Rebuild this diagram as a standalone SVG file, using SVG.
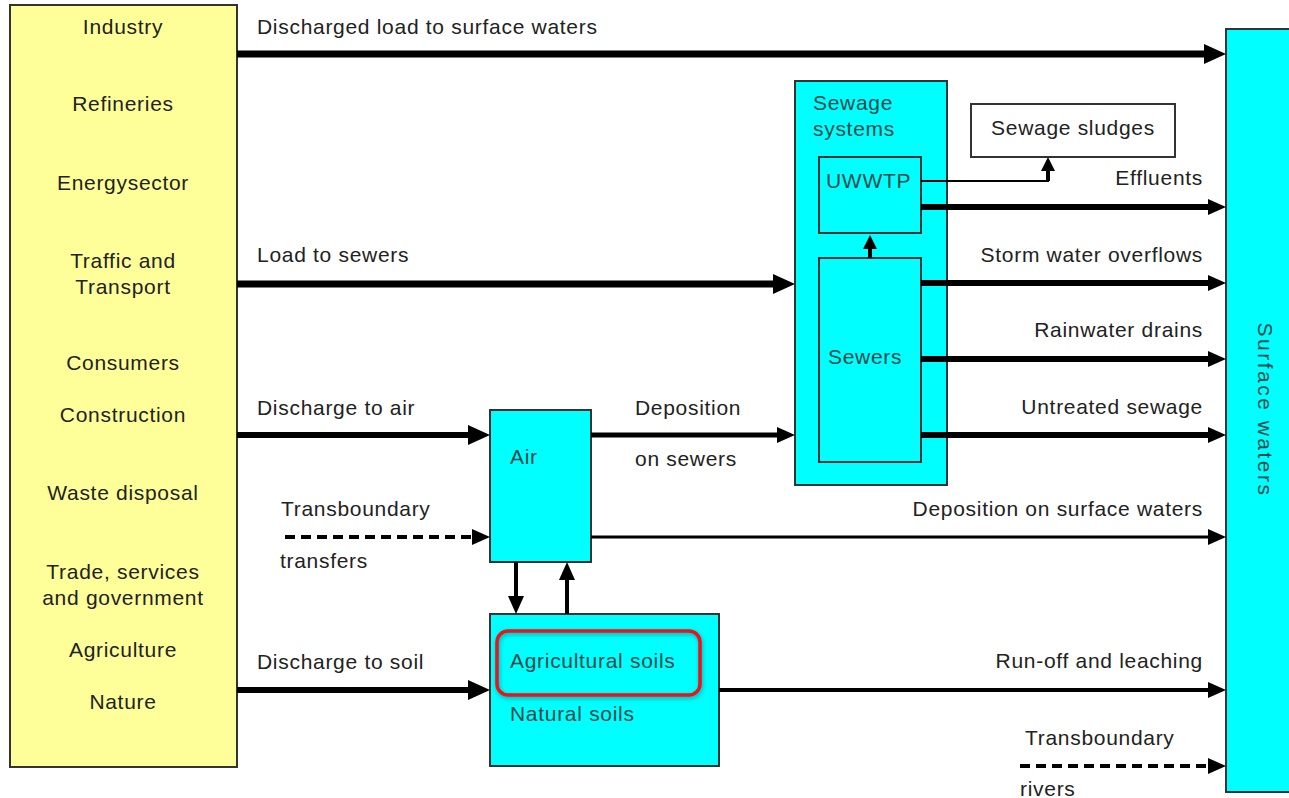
<svg xmlns="http://www.w3.org/2000/svg" width="1289" height="798" viewBox="0 0 1289 798">
<defs>
<marker id="ah" markerUnits="userSpaceOnUse" markerWidth="22" markerHeight="20" viewBox="0 0 22 20" refX="11" refY="10" orient="auto"><path d="M0,0 L22,10 L0,20 z" fill="#000"/></marker>
<marker id="ahm" markerUnits="userSpaceOnUse" markerWidth="18" markerHeight="16" viewBox="0 0 18 16" refX="9" refY="8" orient="auto"><path d="M0,0 L18,8 L0,16 z" fill="#000"/></marker>
<marker id="ahs" markerUnits="userSpaceOnUse" markerWidth="14" markerHeight="14" viewBox="0 0 14 14" refX="7" refY="7" orient="auto"><path d="M0,0 L14,7 L0,14 z" fill="#000"/></marker>
<filter id="sh" x="-10%" y="-20%" width="120%" height="150%"><feDropShadow dx="1" dy="2" stdDeviation="2" flood-color="#000" flood-opacity="0.3"/></filter>
</defs>
<style>
text{font-family:"Liberation Sans",Arial,sans-serif;font-size:21px;letter-spacing:0.7px;fill:#222}
.in{fill:#1f4a4a}
.box{stroke:#333;stroke-width:2}
.cy{fill:#00FFFF}
.c{text-anchor:middle}
.r{text-anchor:end}
.ln{stroke:#000;fill:none}
</style>
<rect width="1289" height="798" fill="#fff"/>

<g id="sources">
<rect class="box" x="10" y="5" width="227" height="762" fill="#FFFF99"/>
<text class="c" x="123" y="34">Industry</text>
<text class="c" x="123" y="111">Refineries</text>
<text class="c" x="123" y="190">Energysector</text>
<text class="c" x="123" y="268">Traffic and</text>
<text class="c" x="123" y="294">Transport</text>
<text class="c" x="123" y="370">Consumers</text>
<text class="c" x="123" y="422">Construction</text>
<text class="c" x="123" y="500">Waste disposal</text>
<text class="c" x="123" y="579">Trade, services</text>
<text class="c" x="123" y="605">and government</text>
<text class="c" x="123" y="657">Agriculture</text>
<text class="c" x="123" y="709">Nature</text>
</g>

<g id="surface-waters">
<rect class="box cy" x="1226" y="29" width="70" height="763"/>
<text class="c in" transform="translate(1258,410) rotate(90)" style="letter-spacing:2.5px">Surface waters</text>
</g>

<g id="sewage-systems">
<rect class="box cy" x="795" y="81" width="152" height="404"/>
<text class="in" x="813" y="110">Sewage</text>
<text class="in" x="813" y="136">systems</text>
</g>
<g id="uwwtp">
<rect class="box cy" x="819" y="157" width="102" height="76"/>
<text class="in" x="826" y="188">UWWTP</text>
</g>
<g id="sewers">
<rect class="box cy" x="819" y="258" width="102" height="204"/>
<text class="in" x="828" y="364">Sewers</text>
</g>
<g id="sewage-sludges">
<rect class="box" x="971" y="104" width="204" height="53" fill="#fff" stroke="#555"/>
<text class="c" x="1073" y="135">Sewage sludges</text>
</g>
<g id="air">
<rect class="box cy" x="490" y="410" width="101" height="152"/>
<text class="in" x="510" y="464">Air</text>
</g>
<g id="soils">
<rect class="box cy" x="490" y="614" width="229" height="152"/>
<rect x="497" y="631" width="203" height="64" rx="11" fill="none" stroke="#e8141a" stroke-width="3.5" filter="url(#sh)"/>
<text class="in" x="510" y="668">Agricultural soils</text>
<text class="in" x="510" y="721">Natural soils</text>
</g>

<g id="connectors">
<line class="ln" x1="237" y1="54" x2="1215" y2="54" stroke-width="7" marker-end="url(#ah)"/>
<line class="ln" x1="237" y1="284" x2="784" y2="284" stroke-width="7" marker-end="url(#ah)"/>
<line class="ln" x1="237" y1="435" x2="479" y2="435" stroke-width="6" marker-end="url(#ah)"/>
<line class="ln" x1="285" y1="537" x2="481" y2="537" stroke-width="4" stroke-dasharray="10 6" marker-end="url(#ahm)"/>
<line class="ln" x1="237" y1="690" x2="479" y2="690" stroke-width="6" marker-end="url(#ah)"/>
<line class="ln" x1="591" y1="435" x2="786" y2="435" stroke-width="5" marker-end="url(#ahm)"/>
<line class="ln" x1="591" y1="537" x2="1217" y2="537" stroke-width="3" marker-end="url(#ahm)"/>
<line class="ln" x1="516" y1="562" x2="516" y2="605" stroke-width="4" marker-end="url(#ahm)"/>
<line class="ln" x1="567" y1="614" x2="567" y2="571" stroke-width="4" marker-end="url(#ahm)"/>
<line class="ln" x1="719" y1="690" x2="1217" y2="690" stroke-width="4" marker-end="url(#ahm)"/>
<line class="ln" x1="1020" y1="766" x2="1217" y2="766" stroke-width="4" stroke-dasharray="10 6" marker-end="url(#ahm)"/>
<line class="ln" x1="870" y1="258" x2="870" y2="242" stroke-width="4" marker-end="url(#ahs)"/>
<polyline class="ln" points="921,181 1048,181 1048,165" stroke-width="2"/>
<line class="ln" x1="1048" y1="181" x2="1048" y2="164" stroke-width="4" marker-end="url(#ahs)"/>
<line class="ln" x1="921" y1="207" x2="1217" y2="207" stroke-width="6" marker-end="url(#ahm)"/>
<line class="ln" x1="921" y1="283" x2="1217" y2="283" stroke-width="6" marker-end="url(#ahm)"/>
<line class="ln" x1="921" y1="359" x2="1217" y2="359" stroke-width="6" marker-end="url(#ahm)"/>
<line class="ln" x1="921" y1="435" x2="1217" y2="435" stroke-width="6" marker-end="url(#ahm)"/>
</g>

<g id="labels">
<text x="257" y="34">Discharged load to surface waters</text>
<text x="257" y="262">Load to sewers</text>
<text x="257" y="415">Discharge to air</text>
<text x="281" y="516">Transboundary</text>
<text x="280" y="568">transfers</text>
<text x="257" y="669">Discharge to soil</text>
<text x="635" y="415">Deposition</text>
<text x="635" y="466">on sewers</text>
<text class="r" x="1203" y="516">Deposition on surface waters</text>
<text class="r" x="1203" y="185">Effluents</text>
<text class="r" x="1203" y="262">Storm water overflows</text>
<text class="r" x="1203" y="337">Rainwater drains</text>
<text class="r" x="1203" y="414">Untreated sewage</text>
<text class="r" x="1203" y="668">Run-off and leaching</text>
<text x="1025" y="745">Transboundary</text>
<text x="1020" y="796">rivers</text>
</g>
</svg>
